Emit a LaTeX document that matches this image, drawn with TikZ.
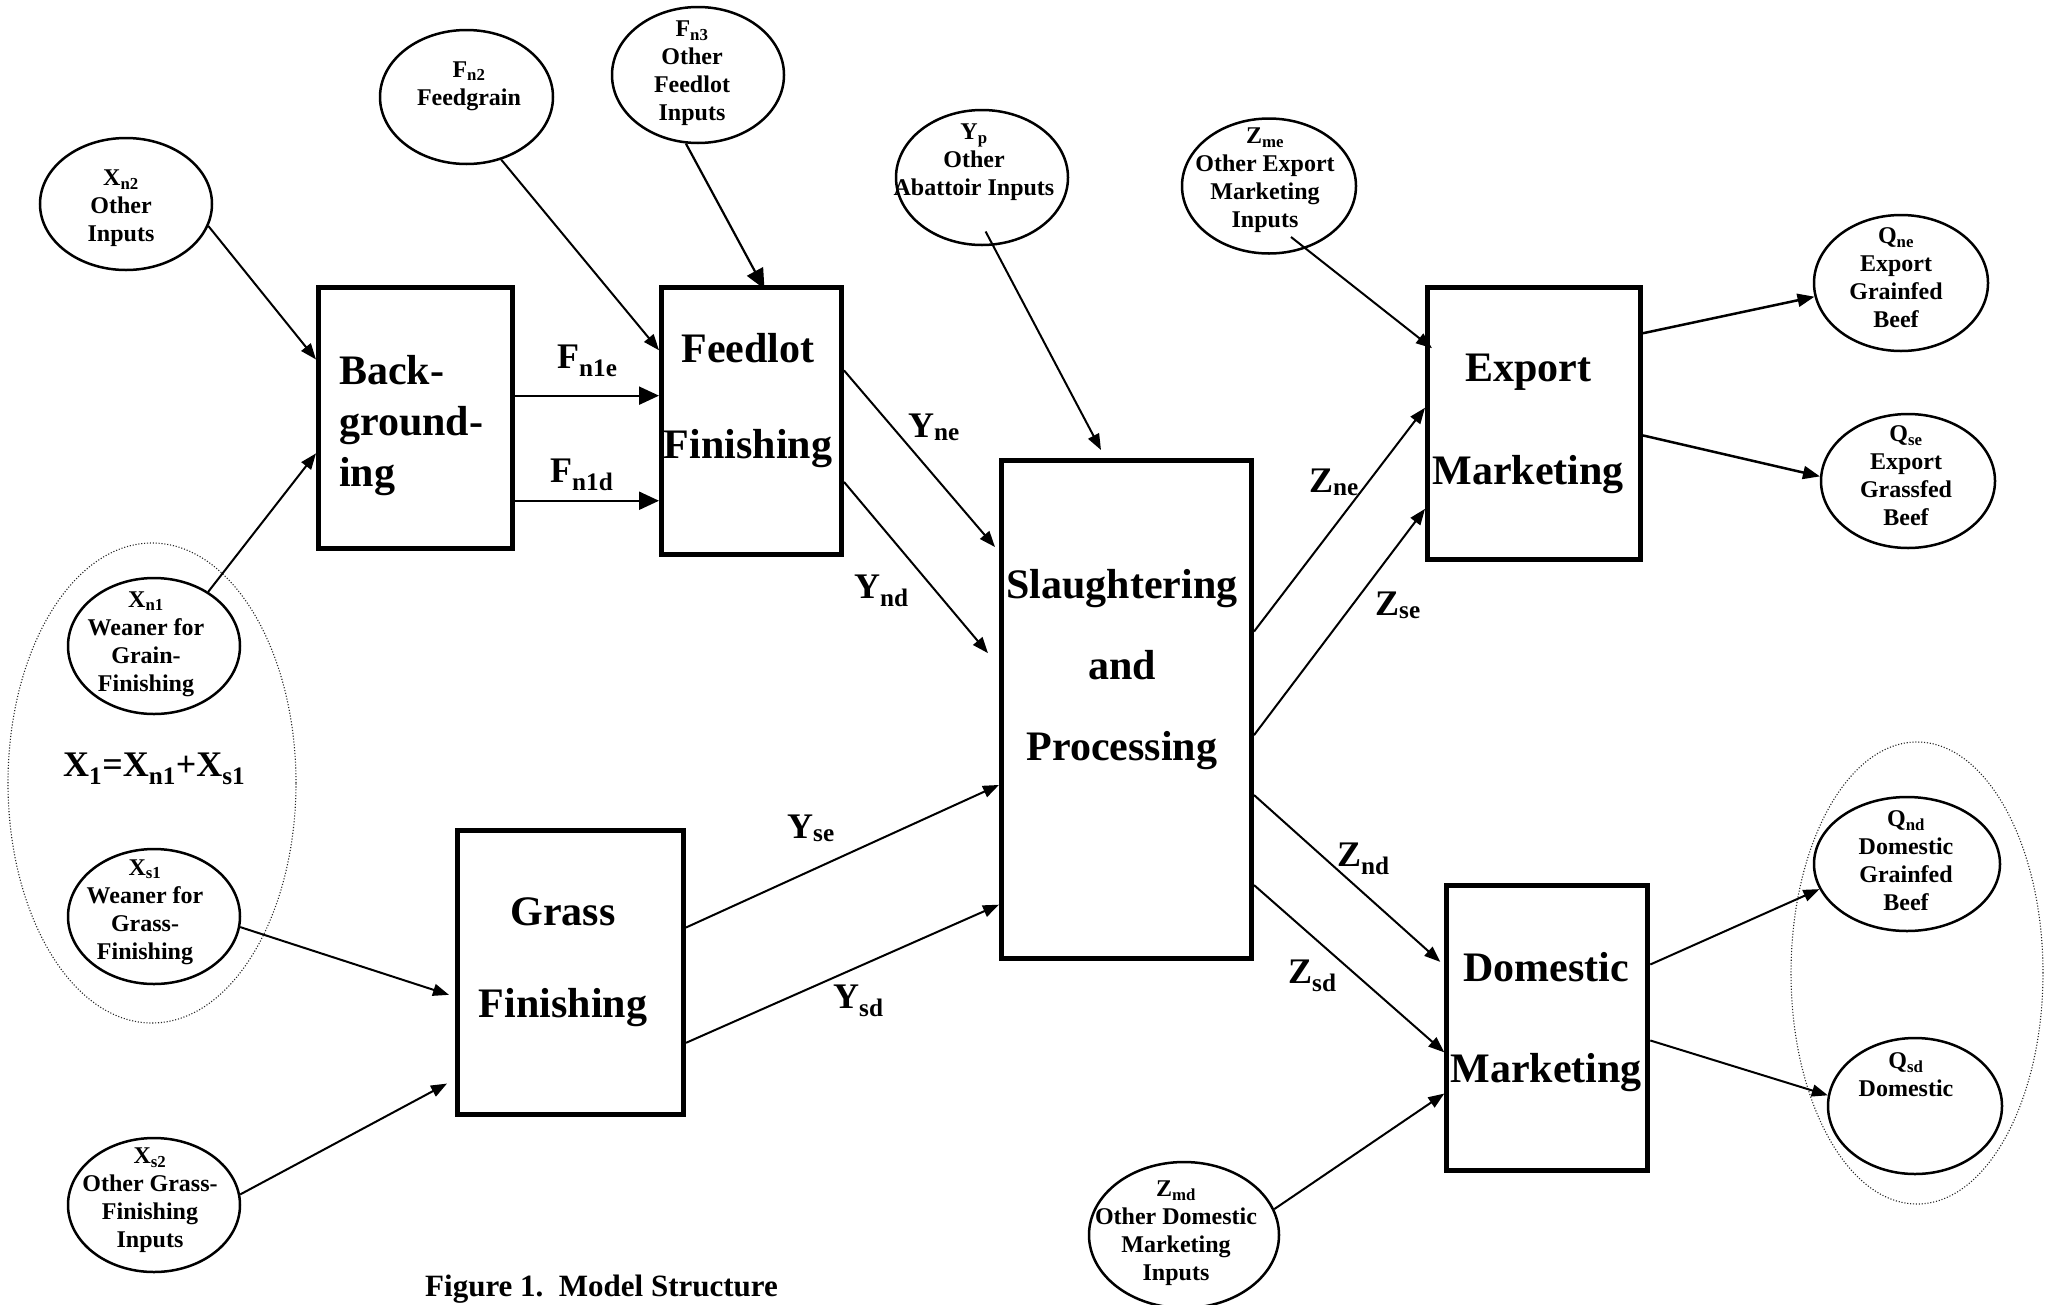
\documentclass[tikz,border=0pt]{standalone}
\usepackage{fontspec}
\setmainfont{Liberation Serif}
\usetikzlibrary{shapes.geometric,arrows.meta,calc}
\tikzset{
  boxn/.style={draw, rectangle, line width=5pt, inner sep=0pt},
  circn/.style={draw, ellipse, line width=2.5pt, inner sep=0pt},
  grp/.style={draw=black!85, ellipse, line width=1.1pt, dash pattern=on 1.1pt off 1.8pt, inner sep=0pt},
  ctext/.style={font=\fontsize{24}{28}\selectfont\bfseries, align=center, inner sep=0pt},
  btext/.style={font=\fontsize{42}{#1}\selectfont\bfseries, align=center, inner sep=0pt},
  elab/.style={font=\fontsize{36}{40}\selectfont\bfseries, anchor=base west, inner sep=0pt},
  arr/.style={line width=2pt, -{Triangle[length=16pt,width=12pt]}},
  thkarr/.style={line width=2.5pt, -{Triangle[length=17pt,width=13pt]}},
  bigarr/.style={line width=2.2pt, -{Triangle[length=20pt,width=18pt]}},
}
\begin{document}
\begin{tikzpicture}[x=1pt,y=-1pt]
\useasboundingbox (0,0) rectangle (2053,1304);

% group ellipses
\node[grp, minimum width=288pt, minimum height=480pt] (grpL) at (152,783) {};
\node[grp, minimum width=252pt, minimum height=462pt] (grpR) at (1917,973) {};

% boxes
\node[boxn, minimum width=194pt, minimum height=261pt] (bg) at (415.5,418) {};
\node[boxn, minimum width=180pt, minimum height=267pt] (fl) at (751.5,421) {};
\node[boxn, minimum width=250pt, minimum height=498pt] (sp) at (1126.5,709.5) {};
\node[boxn, minimum width=213pt, minimum height=272pt] (ex) at (1534,423.8) {};
\node[boxn, minimum width=226pt, minimum height=284pt] (gf) at (570.5,972.3) {};
\node[boxn, minimum width=201pt, minimum height=285pt] (dm) at (1547.3,1028) {};

% box texts
\node[btext=51, align=left, anchor=west] (bgt) at (339,426) {Back-\\ground-\\ing};
\node[btext=96] (flt) at (748,401) {Feedlot\\Finishing};
\node[btext=81] (spt) at (1122,670) {Slaughtering\\and\\Processing};
\node[btext=103] (ext) at (1528,424) {Export\\Marketing};
\node[btext=92] (gft) at (563,962) {Grass\\Finishing};
\node[btext=101] (dmt) at (1546,1022) {Domestic\\Marketing};

% ellipses
\node[circn, minimum width=172pt, minimum height=132pt] (xn2) at (126,204) {};
\node[circn, minimum width=173pt, minimum height=134pt] (fn2) at (466.5,97) {};
\node[circn, minimum width=172pt, minimum height=136pt] (fn3) at (698,75) {};
\node[circn, minimum width=172pt, minimum height=135pt] (yp) at (982,177.5) {};
\node[circn, minimum width=174pt, minimum height=135pt] (zme) at (1269,186) {};
\node[circn, minimum width=174pt, minimum height=136pt] (qne) at (1901,283) {};
\node[circn, minimum width=174pt, minimum height=134pt] (qse) at (1908,481) {};
\node[circn, minimum width=172pt, minimum height=136pt] (xn1) at (154,646) {};
\node[circn, minimum width=172pt, minimum height=135pt] (xs1) at (154,916.5) {};
\node[circn, minimum width=172pt, minimum height=134pt] (xs2) at (154,1205) {};
\node[circn, minimum width=190pt, minimum height=146pt] (zmd) at (1184,1235) {};
\node[circn, minimum width=186pt, minimum height=134pt] (qnd) at (1907,864) {};
\node[circn, minimum width=174pt, minimum height=136pt] (qsd) at (1915,1106) {};

% ellipse texts
\node[ctext] (xn2t) at (121,208) {X\textsubscript{n2}\\Other\\Inputs};
\node[ctext] (fn2t) at (469,86) {F\textsubscript{n2}\\Feedgrain};
\node[ctext] (fn3t) at (692,73) {F\textsubscript{n3}\\Other\\Feedlot\\Inputs};
\node[ctext] (ypt) at (974,162) {Y\textsubscript{p}\\Other\\Abattoir Inputs};
\node[ctext] (zmet) at (1265,180) {Z\textsubscript{me}\\Other Export\\Marketing\\Inputs};
\node[ctext] (qnet) at (1896,278) {Q\textsubscript{ne}\\Export\\Grainfed\\Beef};
\node[ctext] (qset) at (1906,476) {Q\textsubscript{se}\\Export\\Grassfed\\Beef};
\node[ctext] (xn1t) at (146,644) {X\textsubscript{n1}\\Weaner for\\Grain-\\Finishing};
\node[ctext] (xs1t) at (145,912) {X\textsubscript{s1}\\Weaner for\\Grass-\\Finishing};
\node[ctext] (xs2t) at (150,1200) {X\textsubscript{s2}\\Other Grass-\\Finishing\\Inputs};
\node[ctext] (zmdt) at (1176,1233) {Z\textsubscript{md}\\Other Domestic\\Marketing\\Inputs};
\node[ctext] (qndt) at (1906,861) {Q\textsubscript{nd}\\Domestic\\Grainfed\\Beef};
\node[ctext] (qsdt) at (1906,1075) {Q\textsubscript{sd}\\Domestic};

% edge labels
\node[elab] (lfe) at (557,368) {F\textsubscript{n1e}};
\node[elab] (lfd) at (550,482) {F\textsubscript{n1d}};
\node[elab] (lyne) at (908,437) {Y\textsubscript{ne}};
\node[elab] (lynd) at (854,598) {Y\textsubscript{nd}};
\node[elab] (lyse) at (787,838) {Y\textsubscript{se}};
\node[elab] (lysd) at (833,1008) {Y\textsubscript{sd}};
\node[elab] (lzne) at (1309,492) {Z\textsubscript{ne}};
\node[elab] (lzse) at (1375,615) {Z\textsubscript{se}};
\node[elab] (lznd) at (1337,866) {Z\textsubscript{nd}};
\node[elab] (lzsd) at (1288,983) {Z\textsubscript{sd}};
\node[elab] (xsum) at (63,776) {X\textsubscript{1}=X\textsubscript{n1}+X\textsubscript{s1}};
\node[font=\fontsize{31}{34}\selectfont\bfseries, anchor=base west, inner sep=0pt] (cap) at (425,1296) {Figure 1.\ \ Model Structure};

% connectors
\draw[arr] (xn2.-15) -- ($(bg.north west)!0.28!(bg.south west)$);
\draw[arr] (xn1.45) -- ($(bg.north west)!0.633!(bg.south west)$);
\draw[arr] (fn2.-61) -- ($(fl.north west)!0.24!(fl.south west)$);
\draw[bigarr] (fn3.-100) -- ($(fl.north west)!0.57!(fl.north east)+(0,4)$);
\draw[arr] ($(yp.center)+(3.6,54)$) -- ($(sp.north west)!0.40!(sp.north east)+(0,-8)$);

\coordinate (a1) at ($(bg.north east)!0.416!(bg.south east)$);
\coordinate (a2) at ($(bg.north east)!0.811!(bg.south east)$);
\draw[bigarr] (a1) -- (a1 -| fl.west);
\draw[bigarr] (a2) -- (a2 -| fl.west);

\draw[arr] ($(fl.north east)!0.314!(fl.south east)$) -- ($(sp.north west)!0.177!(sp.south west)+(-4,0)$);
\draw[arr] ($(fl.north east)!0.724!(fl.south east)$) -- ($(sp.north west)!0.388!(sp.south west)+(-11,0)$);

\draw[arr] (xs1.-7) -- ($(gf.north west)!0.578!(gf.south west)+(-6,0)$);
\draw[arr] (xs2.7) -- ($(gf.north west)!0.885!(gf.south west)+(-8,0)$);
\draw[arr] ($(gf.north east)!0.345!(gf.south east)$) -- ($(sp.north west)!0.65!(sp.south west)$);
\draw[arr] ($(gf.north east)!0.744!(gf.south east)$) -- ($(sp.north west)!0.888!(sp.south west)$);

\draw[arr] ($(zme.center)+(22,51)$) -- ($(ex.north west)!0.227!(ex.south west)+(7,0)$);
\draw[arr] ($(sp.north east)!0.345!(sp.south east)$) -- ($(ex.north west)!0.442!(ex.south west)$);
\draw[arr] ($(sp.north east)!0.551!(sp.south east)$) -- ($(ex.north west)!0.807!(ex.south west)$);
\draw[thkarr] ($(ex.north east)!0.173!(ex.south east)$) -- (qne.189);
\draw[thkarr] ($(ex.north east)!0.542!(ex.south east)$) -- (qse.177);

\draw[arr] ($(sp.north east)!0.67!(sp.south east)$) -- ($(dm.north west)!0.272!(dm.south west)+(-4,0)$);
\draw[arr] ($(sp.north east)!0.849!(sp.south east)$) -- ($(dm.north west)!0.584!(dm.south west)$);
\draw[arr] (zmd.16) -- ($(dm.north west)!0.726!(dm.south west)$);
\draw[arr] ($(dm.north east)!0.281!(dm.south east)$) -- (qnd.196);
\draw[arr] ($(dm.north east)!0.543!(dm.south east)$) -- (qsd.173.6);
\end{tikzpicture}
\end{document}
